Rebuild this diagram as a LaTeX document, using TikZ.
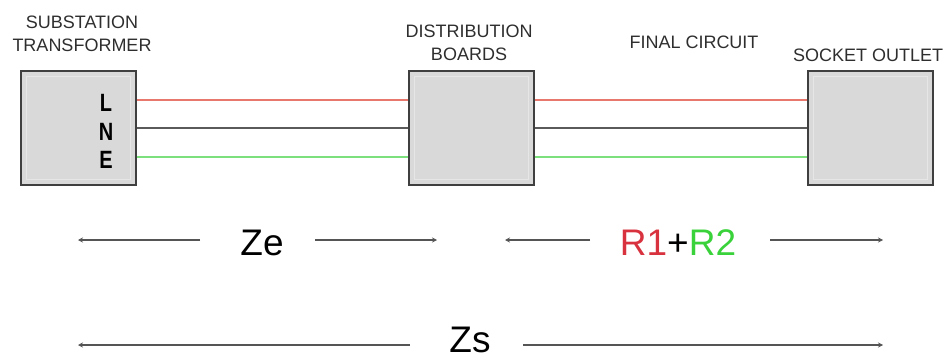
\documentclass[tikz,border=0pt]{standalone}
\usepackage{fontspec}
\setmainfont{Liberation Sans}
\usetikzlibrary{calc,arrows.meta}

\definecolor{boxfill}{HTML}{D9D9D9}
\definecolor{boxline}{HTML}{3F3F3F}
\definecolor{boxinner}{HTML}{E6E6E6}
\definecolor{livewire}{HTML}{E8786E}
\definecolor{neutralwire}{HTML}{5A5A5A}
\definecolor{earthwire}{HTML}{7CE07C}
\definecolor{labelgray}{HTML}{2E2E2E}
\definecolor{rone}{HTML}{D8323F}
\definecolor{rtwo}{HTML}{3AD23A}
\definecolor{dimgray}{HTML}{555555}

\tikzset{
  unitbox/.style={draw=boxline, fill=boxfill, line width=1.8pt,
    minimum width=125pt, minimum height=114pt, inner sep=0pt, anchor=north west},
  innerframe/.style={draw=boxinner, line width=1pt},
  caption/.style={text=labelgray, align=center, inner sep=0pt,
    font=\fontsize{18}{23.5}\selectfont},
  terminal/.style={font=\fontsize{25}{25}\selectfont\bfseries, text=black,
    inner sep=0pt, xscale=0.8},
  wire/.style={line width=1.8pt},
  live/.style={wire, draw=livewire},
  neutral/.style={wire, draw=neutralwire},
  earth/.style={wire, draw=earthwire},
  dimline/.style={draw=dimgray, line width=1.6pt, -{Stealth[length=5pt,width=5pt]}},
  bigtext/.style={font=\fontsize{37}{37}\selectfont, inner sep=0pt}
}

\begin{document}
\begin{tikzpicture}[x=1pt, y=-1pt]
  \useasboundingbox (0,0) rectangle (947,361);

  % boxes
  \node[unitbox, minimum width=115pt] (sub) at (20,70) {};
  \node[unitbox] (db)  at (408,70) {};
  \node[unitbox] (so)  at (807,70) {};
  \foreach \b in {sub,db,so}
    \draw[innerframe] ($(\b.north west)+(6,6)$) rectangle ($(\b.south east)+(-6,-6)$);

  % captions
  \node[caption] (subcap) at (82,34) {SUBSTATION\\TRANSFORMER};
  \node[caption] (dbcap)  at (469,43) {DISTRIBUTION\\BOARDS};
  \node[caption] (fccap)  at (694,42) {FINAL CIRCUIT};
  \node[caption] (socap)  at (868,55) {SOCKET OUTLET};

  % terminal letters
  \node[terminal] (tl) at (106,103) {L};
  \node[terminal] (tn) at (106,132) {N};
  \node[terminal] (te) at (106,160) {E};

  % conductors
  \draw[live]    ($(sub.east)+(0,-28)$) -- ($(db.west)+(0,-28)$);
  \draw[neutral] (sub.east) -- (db.west);
  \draw[earth]   ($(sub.east)+(0,29)$) -- ($(db.west)+(0,29)$);
  \draw[live]    ($(db.east)+(0,-28)$) -- ($(so.west)+(0,-28)$);
  \draw[neutral] (db.east) -- (so.west);
  \draw[earth]   ($(db.east)+(0,29)$) -- ($(so.west)+(0,29)$);

  % impedance labels
  \node[bigtext] (ze) at (262,243) {Ze};
  \node[bigtext] (rr) at (678,243) {\textcolor{rone}{R1}+\textcolor{rtwo}{R2}};
  \node[bigtext] (zs) at (470,340) {Zs};

  % dimension arrows
  \coordinate (zeL1) at (200,240); \coordinate (zeL2) at (78,240);
  \coordinate (zeR1) at (315,240); \coordinate (zeR2) at (437,240);
  \coordinate (rrL1) at (590,240); \coordinate (rrL2) at (505,240);
  \coordinate (rrR1) at (770,240); \coordinate (rrR2) at (883,240);
  \coordinate (zsL1) at (410,345); \coordinate (zsL2) at (78,345);
  \coordinate (zsR1) at (523,345); \coordinate (zsR2) at (883,345);
  \draw[dimline] (zeL1) -- (zeL2);
  \draw[dimline] (zeR1) -- (zeR2);
  \draw[dimline] (rrL1) -- (rrL2);
  \draw[dimline] (rrR1) -- (rrR2);
  \draw[dimline] (zsL1) -- (zsL2);
  \draw[dimline] (zsR1) -- (zsR2);
\end{tikzpicture}
\end{document}
